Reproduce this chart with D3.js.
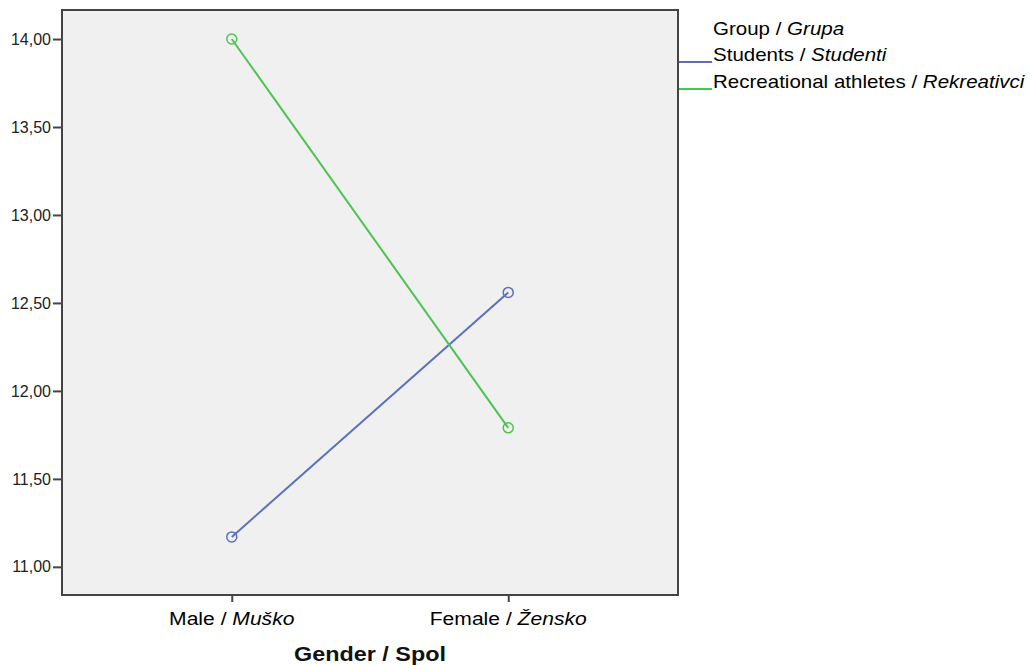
<!DOCTYPE html>
<html>
<head>
<meta charset="utf-8">
<script src="https://cdn.jsdelivr.net/npm/d3@7"></script>
<style>
  body { margin: 0; background: #fff; }
  text { font-family: "Liberation Sans", Arial, sans-serif; fill: #000; }
</style>
</head>
<body>
<div id="chart"></div>
<script>
// data
var genders = ["Male", "Female"]
var genderLabels = [["Male / ", "Muško"], ["Female / ", "Žensko"]]
var groups = ["Students", "Recreational athletes"]
var groupLabels = [["Students / ", "Studenti"], ["Recreational athletes / ", "Rekreativci"]]
var groupColors = ["#5b6fbf", "#4cc452"]
var studentMeans = [11.17, 12.56]
var recreationalMeans = [14.00, 11.79]
var yTicks = [11.0, 11.5, 12.0, 12.5, 13.0, 13.5, 14.0]

var series = [studentMeans, recreationalMeans]

// set the dimensions and margins of the graph
var margin = {top: 10, right: 354, bottom: 70, left: 62},
width = 1032 - margin.left - margin.right,
height = 665 - margin.top - margin.bottom;

// the source text is a bit wider than the font, stretch it
var stretch = 1.14

var svg = d3.select("#chart")
.append("svg")
  .attr("width", 1032)
  .attr("height", 665)
.append("g")
  .attr("transform", "translate(" + margin.left + "," + margin.top + ")");

// plot background
svg.append("rect")
  .attr("x", 0).attr("y", 0)
  .attr("width", width).attr("height", height)
  .style("fill", "#f0f0f0")

var x = d3.scalePoint()
  .domain(genders)
  .range([0, width])
  .padding(0.614)

var y = d3.scaleLinear()
  .domain([10.84, 14.165])
  .range([height, 0])

var fmt = function(d) { return d3.format(".2f")(d).replace(".", ",") }

// Y axis
var yAxis = svg.append("g")
  .call(d3.axisLeft(y).tickValues(yTicks).tickFormat(fmt).tickSize(9).tickPadding(2))
yAxis.select(".domain").remove()
yAxis.selectAll("line").style("stroke", "#444").style("stroke-width", 2)
yAxis.selectAll("text").style("font-size", "16px").style("fill", "#222")
  .style("font-family", "'Liberation Sans', Arial, sans-serif")

// X axis
var xAxis = svg.append("g")
  .attr("transform", "translate(0," + height + ")")
  .call(d3.axisBottom(x).tickSize(7).tickFormat(""))
xAxis.select(".domain").remove()
xAxis.selectAll("line").style("stroke", "#444").style("stroke-width", 2)

genders.forEach(function(g, i) {
  var t = svg.append("text")
    .attr("transform", "translate(" + x(g) + "," + (height + 30) + ") scale(" + stretch + ",1)")
    .attr("text-anchor", "middle")
    .style("font-size", "18.5px")
  t.append("tspan").text(genderLabels[i][0])
  t.append("tspan").style("font-style", "italic").text(genderLabels[i][1])
})

svg.append("text")
  .attr("transform", "translate(" + (width / 2) + "," + (height + 66) + ") scale(" + stretch + ",1)")
  .attr("text-anchor", "middle")
  .style("font-size", "20.5px")
  .style("font-weight", "bold")
  .style("fill", "#111")
  .text("Gender / Spol")

// lines and markers
var line = d3.line()
  .x(function(d, i) { return x(genders[i]) })
  .y(function(d) { return y(d) })

series.forEach(function(s, k) {
  svg.append("path")
    .datum(s)
    .attr("d", line)
    .style("fill", "none")
    .style("stroke", groupColors[k])
    .style("stroke-width", 2)
  svg.selectAll(".pt" + k)
    .data(s)
    .enter()
    .append("circle")
      .attr("cx", function(d, i) { return x(genders[i]) })
      .attr("cy", function(d) { return y(d) })
      .attr("r", 5)
      .style("fill", "none")
      .style("stroke", groupColors[k])
      .style("stroke-width", 1.5)
})

// frame
svg.append("rect")
  .attr("x", 0).attr("y", 0)
  .attr("width", width).attr("height", height)
  .style("fill", "none")
  .style("stroke", "#444")
  .style("stroke-width", 2)

// legend
var lg = svg.append("g").attr("transform", "translate(" + width + ",0)")
var lt = lg.append("text")
  .attr("transform", "translate(35,25) scale(" + stretch + ",1)")
  .style("font-size", "18px")
lt.append("tspan").text("Group / ")
lt.append("tspan").style("font-style", "italic").text("Grupa")

groups.forEach(function(g, k) {
  var yy = 52 + k * 27
  lg.append("line")
    .attr("x1", 1).attr("x2", 34)
    .attr("y1", yy).attr("y2", yy)
    .style("stroke", groupColors[k])
    .style("stroke-width", 2)
  var t = lg.append("text")
    .attr("transform", "translate(35," + (yy - 1) + ") scale(" + stretch + ",1)")
    .style("font-size", "18px")
  t.append("tspan").text(groupLabels[k][0])
  t.append("tspan").style("font-style", "italic").text(groupLabels[k][1])
})
</script>
</body>
</html>
